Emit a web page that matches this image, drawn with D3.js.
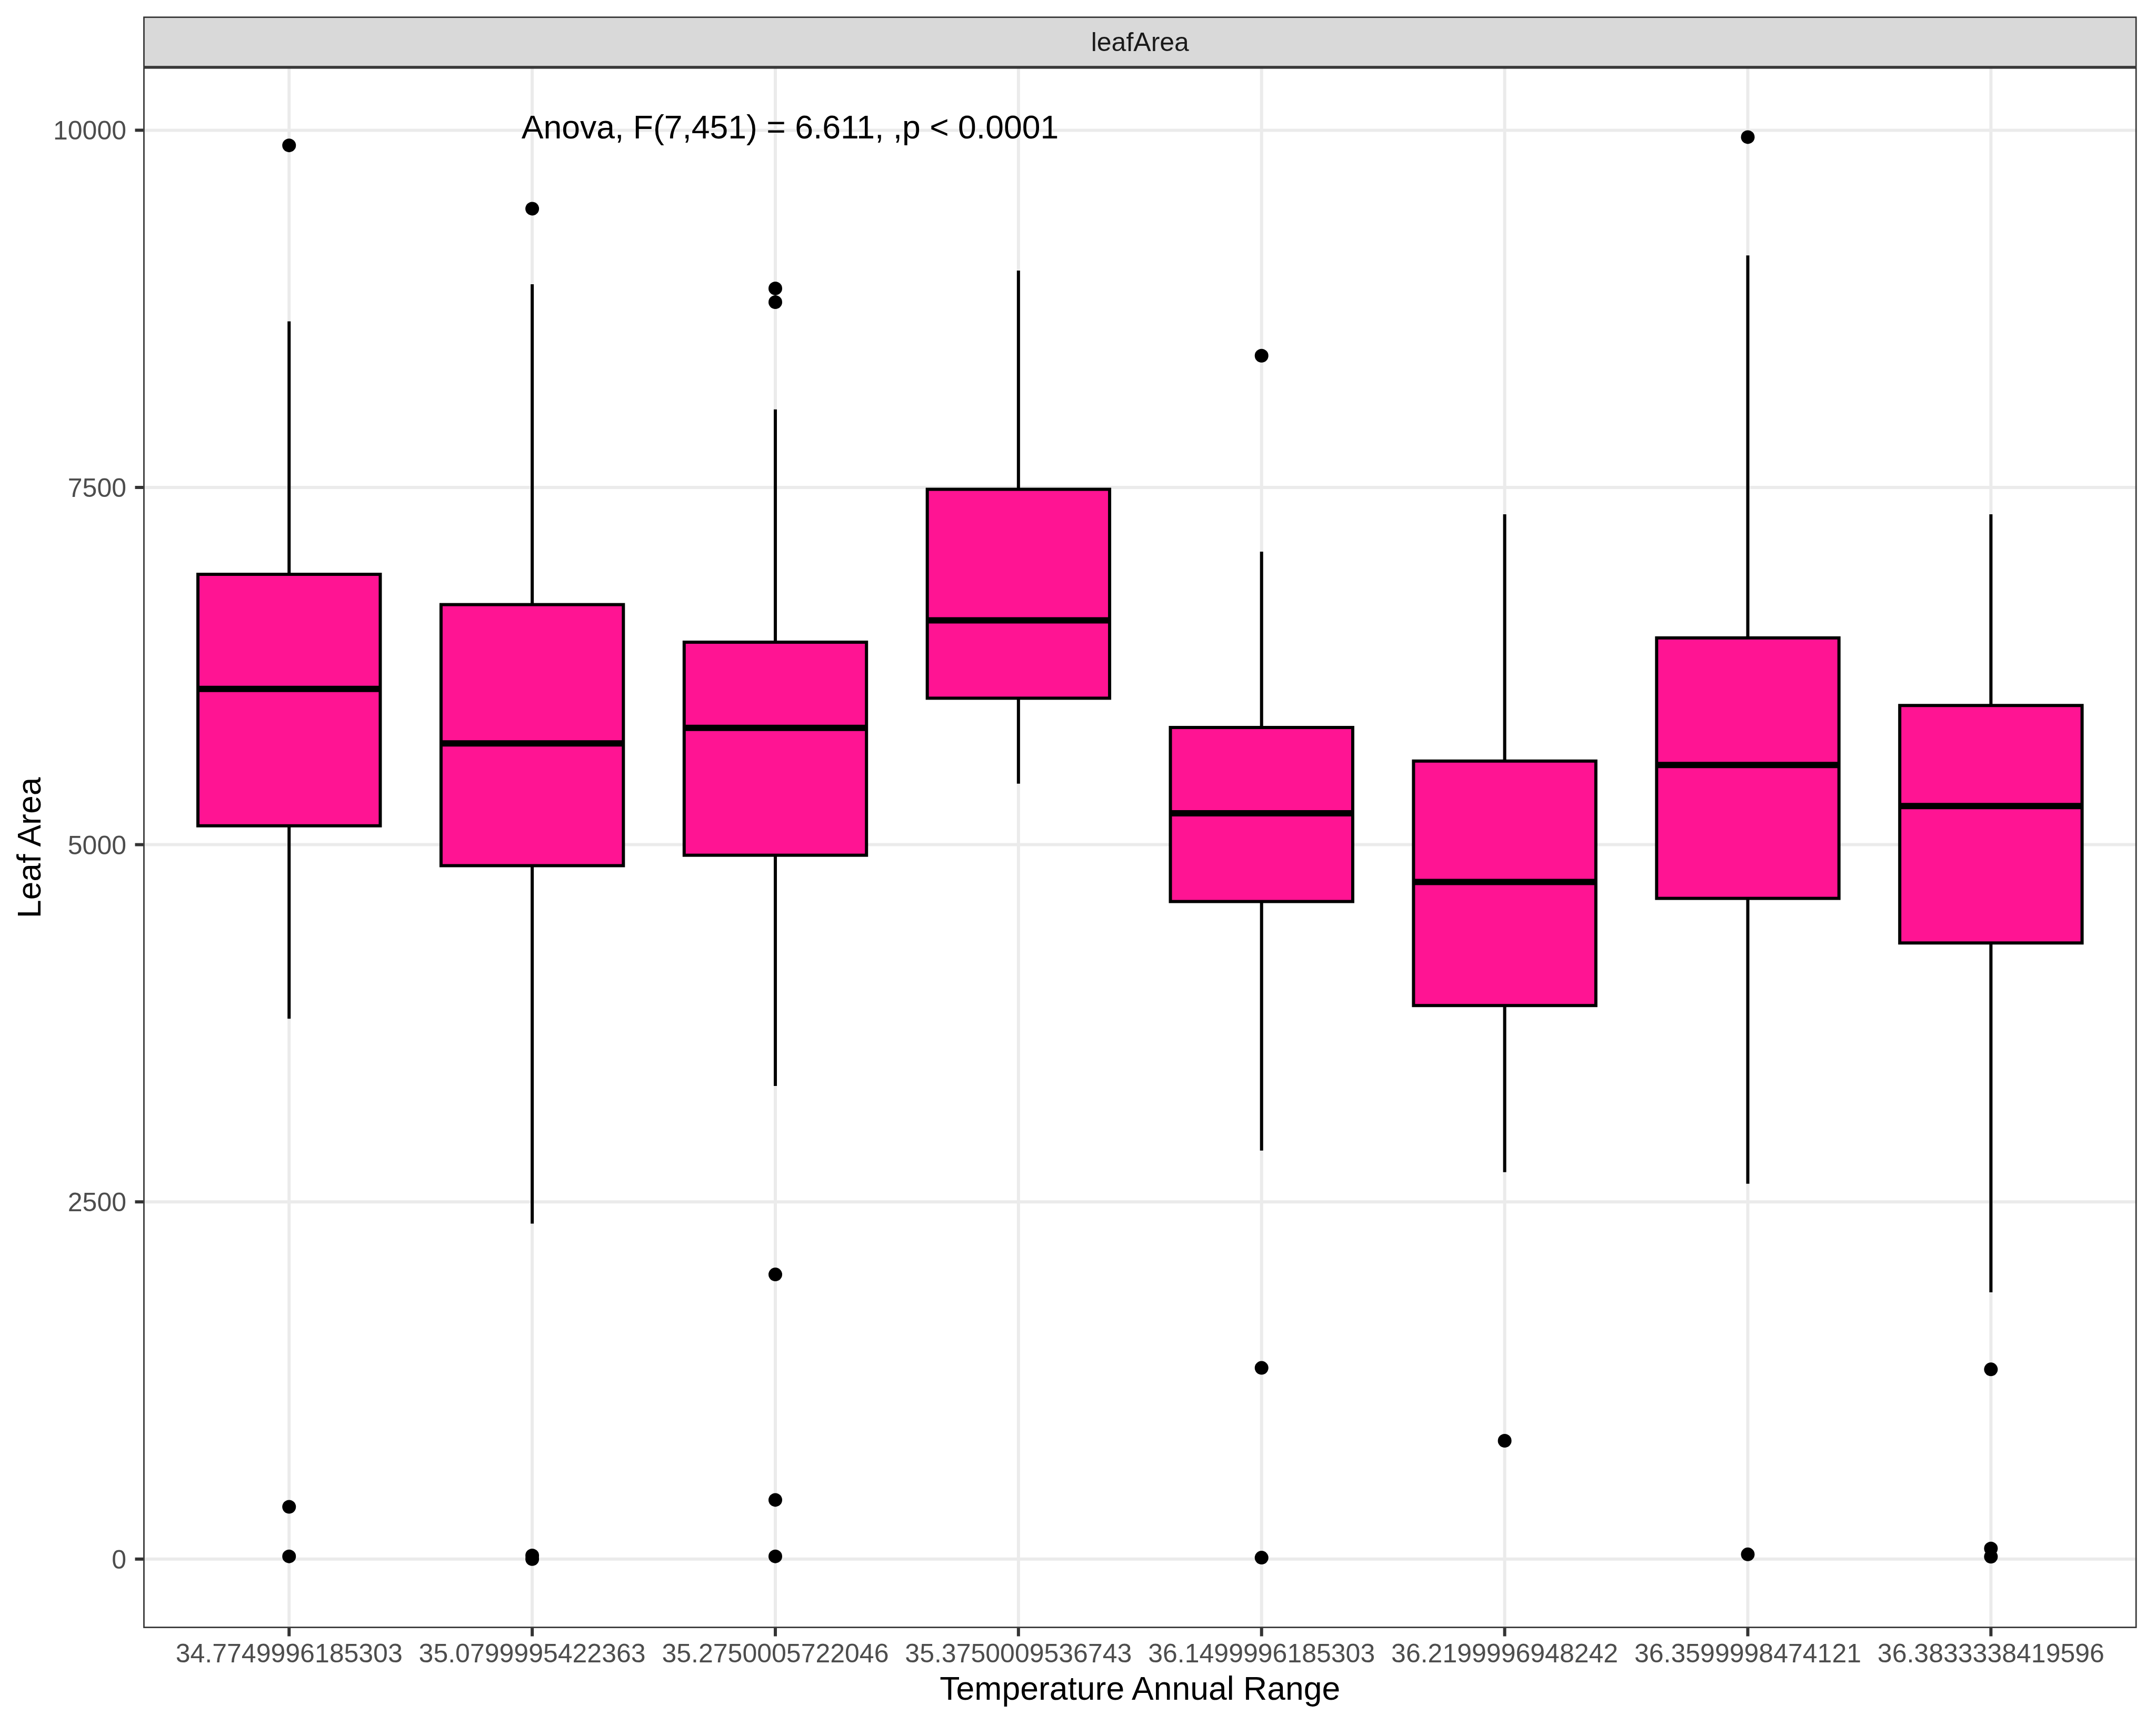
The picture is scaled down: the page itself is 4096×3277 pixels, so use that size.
<!DOCTYPE html>
<html>
<head>
<meta charset="utf-8">
<script src="https://cdn.jsdelivr.net/npm/d3@7"></script>
<style>
  html, body { margin: 0; padding: 0; background: #ffffff; }
  svg { display: block; font-family: "Liberation Sans", Arial, Helvetica, sans-serif; }
</style>
</head>
<body>
<script>
// ---- data ----
const categories = ["34.7749996185303", "35.0799995422363", "35.2750005722046", "35.3750009536743",
                    "36.1499996185303", "36.2199996948242", "36.3599998474121", "36.3833338419596"];
const whiskerLow  = [3782, 2348, 3311, 5427, 2859, 2708, 2627, 1867];
const q1Values    = [5132, 4853, 4926, 6025, 4602, 3874, 4624, 4312];
const medianValues= [6090, 5709, 5817, 6570, 5220, 4739, 5558, 5270];
const q3Values    = [6892, 6680, 6417, 7487, 5820, 5585, 6447, 5974];
const whiskerHigh = [8662, 8922, 8046, 9018, 7051, 7312, 9124, 7312];
const outlierValues = [
  [9894, 366, 19],
  [9451, 25, 0],
  [8893, 8797, 1992, 414, 19],
  [],
  [8422, 1338, 10],
  [828],
  [9952, 33],
  [1328, 74, 17]
];
const yTicks = [0, 2500, 5000, 7500, 10000];
const stripLabel = "leafArea";
const xTitle = "Temperature Annual Range";
const yTitle = "Leaf Area";
const anovaLabel = "Anova, F(7,451) = 6.611, ,p < 0.0001";

// ---- layout ----
const W = 4096, H = 3277;
const panel = { left: 272.1, right: 4059.5, top: 127.9, bottom: 3092.9 };
const stripTop = 31.4;
const fontFamily = '"Liberation Sans", Arial, Helvetica, sans-serif';
const lineW = 6;

const svg = d3.select("body").append("svg").attr("width", W).attr("height", H);
svg.append("rect").attr("width", W).attr("height", H).attr("fill", "#ffffff");

const x = d3.scalePoint().domain(categories).range([panel.left, panel.right]).padding(0.6);
const step = x.step();
const boxW = step * 0.75;
// y: 0 -> 2961.8, 10000 -> 247.4
const y = d3.scaleLinear().domain([0, 10000]).range([2961.8, 247.4]);

const boxes = categories.map((c, i) => ({
  cat: c, lo: whiskerLow[i], q1: q1Values[i], med: medianValues[i], q3: q3Values[i], hi: whiskerHigh[i],
  out: outlierValues[i]
}));

// panel background
const g = svg.append("g");
g.append("rect").attr("x", panel.left).attr("y", panel.top)
  .attr("width", panel.right - panel.left).attr("height", panel.bottom - panel.top)
  .attr("fill", "#ffffff");

// grid lines
const grid = g.append("g");
grid.selectAll("line.h").data(yTicks).join("line")
  .attr("x1", panel.left).attr("x2", panel.right)
  .attr("y1", d => y(d)).attr("y2", d => y(d))
  .attr("stroke", "#EBEBEB").attr("stroke-width", lineW);
grid.selectAll("line.v").data(categories).join("line")
  .attr("x1", d => x(d)).attr("x2", d => x(d))
  .attr("y1", panel.top).attr("y2", panel.bottom)
  .attr("stroke", "#EBEBEB").attr("stroke-width", lineW);

// whiskers
const bx = g.append("g");
bx.selectAll("line.wh").data(boxes).join("line")
  .attr("x1", d => x(d.cat)).attr("x2", d => x(d.cat))
  .attr("y1", d => y(d.q3)).attr("y2", d => y(d.hi))
  .attr("stroke", "#000").attr("stroke-width", lineW);
bx.selectAll("line.wl").data(boxes).join("line")
  .attr("x1", d => x(d.cat)).attr("x2", d => x(d.cat))
  .attr("y1", d => y(d.q1)).attr("y2", d => y(d.lo))
  .attr("stroke", "#000").attr("stroke-width", lineW);
// boxes
bx.selectAll("rect.box").data(boxes).join("rect")
  .attr("x", d => x(d.cat) - boxW / 2).attr("width", boxW)
  .attr("y", d => y(d.q3)).attr("height", d => y(d.q1) - y(d.q3))
  .attr("fill", "#FF1493").attr("stroke", "#000").attr("stroke-width", lineW);
// medians
bx.selectAll("line.med").data(boxes).join("line")
  .attr("x1", d => x(d.cat) - boxW / 2).attr("x2", d => x(d.cat) + boxW / 2)
  .attr("y1", d => y(d.med)).attr("y2", d => y(d.med))
  .attr("stroke", "#000").attr("stroke-width", 2 * lineW);
// outliers
const outs = [];
boxes.forEach(b => b.out.forEach(v => outs.push({ cat: b.cat, v })));
bx.selectAll("circle").data(outs).join("circle")
  .attr("cx", d => x(d.cat)).attr("cy", d => y(d.v)).attr("r", 13)
  .attr("fill", "#000");

// annotation
svg.append("text")
  .attr("x", x(categories[0]) + 0.956 * step)
  .attr("y", y(10000) + 15.2)
  .attr("font-family", fontFamily).attr("font-size", 62.5).attr("fill", "#000")
  .text(anovaLabel);

// panel border
svg.append("rect")
  .attr("x", panel.left + 1.35).attr("y", panel.top + 1.35)
  .attr("width", panel.right - panel.left - 2.7).attr("height", panel.bottom - panel.top - 2.7)
  .attr("fill", "none").attr("stroke", "#333333").attr("stroke-width", 2.7);

// strip
svg.append("rect")
  .attr("x", panel.left + 1.35).attr("y", stripTop + 1.35)
  .attr("width", panel.right - panel.left - 2.7).attr("height", panel.top - stripTop - 2.7)
  .attr("fill", "#D9D9D9").attr("stroke", "#333333").attr("stroke-width", 2.7);
svg.append("text")
  .attr("x", (panel.left + panel.right) / 2).attr("y", (stripTop + panel.top) / 2)
  .attr("dy", "0.35em").attr("text-anchor", "middle")
  .attr("font-family", fontFamily).attr("font-size", 50).attr("fill", "#1A1A1A")
  .text(stripLabel);

// y axis
const yAxis = svg.append("g");
yAxis.selectAll("line").data(yTicks).join("line")
  .attr("x1", panel.left - 15.6).attr("x2", panel.left)
  .attr("y1", d => y(d)).attr("y2", d => y(d))
  .attr("stroke", "#333333").attr("stroke-width", lineW);
yAxis.selectAll("text").data(yTicks).join("text")
  .attr("x", 240).attr("y", d => y(d)).attr("dy", "0.36em")
  .attr("text-anchor", "end")
  .attr("font-family", fontFamily).attr("font-size", 50).attr("fill", "#4D4D4D")
  .text(d => d);

// x axis
const xAxis = svg.append("g");
xAxis.selectAll("line").data(categories).join("line")
  .attr("x1", d => x(d)).attr("x2", d => x(d))
  .attr("y1", panel.bottom).attr("y2", panel.bottom + 15.6)
  .attr("stroke", "#333333").attr("stroke-width", lineW);
xAxis.selectAll("text").data(categories).join("text")
  .attr("x", d => x(d)).attr("y", 3158)
  .attr("text-anchor", "middle")
  .attr("font-family", fontFamily).attr("font-size", 50).attr("fill", "#4D4D4D")
  .text(d => d);

// titles
svg.append("text")
  .attr("x", (panel.left + panel.right) / 2).attr("y", 3229)
  .attr("text-anchor", "middle")
  .attr("font-family", fontFamily).attr("font-size", 62.5).attr("fill", "#000")
  .text(xTitle);
svg.append("text")
  .attr("transform", `translate(77, ${(panel.top + panel.bottom) / 2}) rotate(-90)`)
  .attr("text-anchor", "middle")
  .attr("font-family", fontFamily).attr("font-size", 62.5).attr("fill", "#000")
  .text(yTitle);
</script>
</body>
</html>
